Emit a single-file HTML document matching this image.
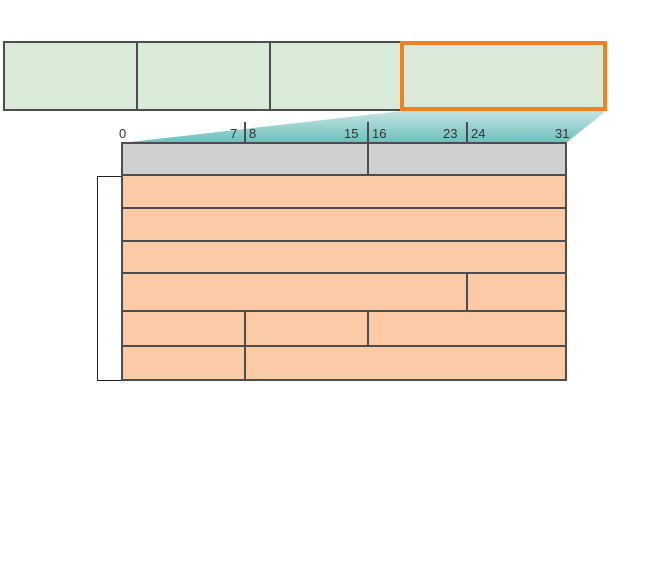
<!DOCTYPE html>
<html><head><style>body{margin:0;background:#fff}</style></head><body>
<svg width="653" height="556" xmlns="http://www.w3.org/2000/svg" font-family="Liberation Sans, sans-serif">
<defs><linearGradient id="g" x1="0" y1="0" x2="0" y2="1"><stop offset="0" stop-color="#c4e4e2"/><stop offset="1" stop-color="#6cbfbd"/></linearGradient></defs>
<polygon points="402,111 606,111 566,143 122,143" fill="url(#g)"/>
<g stroke="#4d4d4d" stroke-width="2" fill="#d9ead9">
<rect x="4" y="42" width="398" height="68"/>
<line x1="137" y1="42" x2="137" y2="110"/><line x1="270" y1="42" x2="270" y2="110"/>
</g>
<rect x="402" y="43" width="203" height="66" fill="#d9ead9" stroke="#f08024" stroke-width="4"/>
<path d="M122,176.5 H97.5 V380.5 H122" fill="none" stroke="#222" stroke-width="1"/>
<g stroke="#4d4d4d" stroke-width="2">
<rect x="122" y="143" width="444" height="32" fill="#d1d0d1"/>
<line x1="368" y1="143" x2="368" y2="175"/>
<rect x="122" y="175" width="444" height="205" fill="#facba6"/>
<line x1="122" y1="208" x2="566" y2="208"/>
<line x1="122" y1="241" x2="566" y2="241"/>
<line x1="122" y1="273" x2="566" y2="273"/>
<line x1="122" y1="311" x2="566" y2="311"/>
<line x1="122" y1="346" x2="566" y2="346"/>
<line x1="467" y1="273" x2="467" y2="311"/>
<line x1="245" y1="311" x2="245" y2="380"/>
<line x1="368" y1="311" x2="368" y2="346"/>
<line x1="245" y1="122" x2="245" y2="143"/>
<line x1="368" y1="122" x2="368" y2="143"/>
<line x1="467" y1="122" x2="467" y2="143"/>
</g>
<g font-size="13" fill="#333">
<text x="119" y="138">0</text>
<text x="230" y="138">7</text><text x="249" y="138">8</text>
<text x="344" y="138">15</text><text x="372" y="138">16</text>
<text x="443" y="138">23</text><text x="471" y="138">24</text>
<text x="555" y="138">31</text>
</g>
</svg>
</body></html>
